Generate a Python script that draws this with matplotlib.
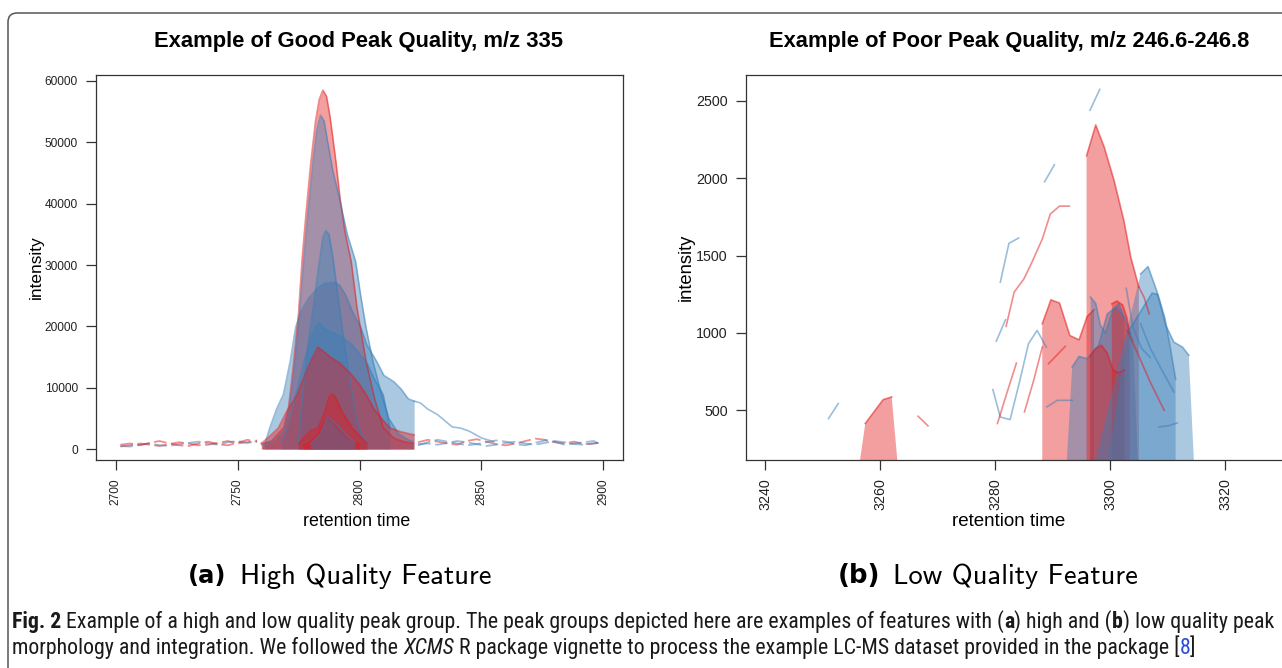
import matplotlib
matplotlib.use("Agg")
import matplotlib.pyplot as plt
from matplotlib import font_manager
from matplotlib.patches import FancyBboxPatch
from matplotlib.transforms import IdentityTransform

W, H = 1282, 668
RED = "#E41A1C"
BLUE = "#377EB8"

# ---------------- (a) good peak, m/z 335 ----------------
red_a_rt = [2760, 2764, 2769, 2771, 2773, 2775, 2776.5, 2778, 2780, 2782, 2783.5, 2785, 2786.5,
            2788, 2790.3, 2792, 2794, 2796.6, 2799, 2802.7, 2806, 2809.7, 2814, 2818, 2822]
red_a_int = [900, 1300, 3500, 7000, 14000, 22000, 31000, 38000, 46500, 53500, 57000, 58500, 57500,
             54000, 47000, 41000, 35500, 30600, 23000, 14300, 8500, 3500, 1800, 1200, 900]

blue_b_rt = [2760, 2765, 2769, 2771, 2773, 2775, 2777, 2779, 2781, 2782.5, 2784, 2785.5, 2787,
             2789, 2791.4, 2795, 2798.4, 2800.5, 2802.7, 2805.5, 2809, 2812, 2816, 2820, 2822]
blue_b_int = [700, 1300, 3000, 6000, 12000, 20000, 30000, 39000, 47000, 52000, 54400, 53500, 50000,
              45500, 41500, 35000, 30600, 25000, 19750, 14300, 8900, 5000, 2500, 1500, 1200]

blue_c_rt = [2775, 2776, 2777.5, 2779, 2781, 2783, 2785, 2786.2, 2787.5, 2789, 2791, 2793, 2795,
             2797, 2799, 2801, 2803]
blue_c_int = [1200, 6000, 12000, 17500, 23000, 29000, 34500, 35600, 35000, 31500, 25500, 19500,
              14000, 9000, 4500, 2000, 1200]

blue_d_rt = [2761, 2763.2, 2766, 2768.8, 2771.6, 2773.8, 2776, 2779, 2782.9, 2786, 2790, 2792,
             2794.2, 2797, 2800.6, 2803, 2807, 2810, 2814, 2817, 2820, 2822.4]
blue_d_int = [600, 3400, 6500, 8900, 14300, 19750, 22500, 24500, 26300, 27000, 27200, 26600,
              25200, 22500, 19750, 17000, 14300, 12000, 11000, 9800, 8200, 7800]
blue_d_tail_rt = [2822.4, 2825, 2828, 2832, 2835, 2838, 2841.5, 2845, 2850, 2855]
blue_d_tail_int = [7800, 7500, 6500, 5600, 4600, 3600, 3400, 2900, 1800, 1200]

blue_e_rt = [2768, 2771, 2774, 2777.3, 2780, 2782, 2783.6, 2786, 2788.6, 2792, 2797, 2800,
             2802.7, 2806, 2809.7, 2812.5]
blue_e_int = [900, 4000, 9000, 14300, 18000, 20000, 20500, 19500, 19000, 18500, 17000, 15500,
              14300, 11500, 8900, 3400]

red_f_rt = [2759.7, 2763, 2766.7, 2770, 2774.5, 2777, 2780, 2782.9, 2785, 2788, 2792, 2797,
            2800, 2802.7, 2806, 2809, 2812.6, 2817, 2822.4]
red_f_int = [900, 2000, 3400, 6000, 8900, 11500, 14300, 16600, 16000, 15000, 14000, 12000,
             10500, 8900, 6500, 5000, 3400, 2800, 2300]

red_g_rt = [2775, 2777, 2780, 2783, 2785.8, 2787.5, 2788.6, 2790, 2792.8, 2797, 2801, 2803]
red_g_int = [800, 1800, 3000, 3430, 6100, 8500, 9000, 8600, 6100, 3430, 1800, 900]

red_h_rt = [2777, 2780, 2783, 2785.5, 2787.2, 2789, 2792, 2795, 2798, 2800]
red_h_int = [600, 1200, 2500, 4200, 5000, 4500, 3000, 1800, 1000, 700]

blue_i_rt = [2780, 2784, 2787, 2790, 2794, 2798]
blue_i_int = [800, 2500, 5200, 4300, 2500, 1000]

# baseline noise outside the peak window
noise_left_rt = [2702, 2706, 2710, 2714, 2718, 2722, 2726, 2730, 2734, 2738, 2742, 2746, 2750,
                 2754, 2758]
noise_right_rt = [2824, 2828, 2832, 2836, 2840, 2844, 2848, 2852, 2856, 2860, 2864, 2868, 2872,
                  2876, 2880, 2884, 2888, 2892, 2896, 2898]
red_noise1_left = [400, 600, 900, 700, 500, 800, 1100, 900, 600, 700, 1000, 1300, 900, 1100, 1400]
blue_noise1_left = [500, 400, 700, 900, 600, 500, 800, 1000, 1200, 900, 700, 1100, 1300, 1000, 1200]
red_noise2_left = [700, 900, 600, 1000, 1300, 900, 600, 500, 900, 1200, 800, 600, 1000, 1500, 1200]
red_noise1_right = [1100, 1500, 1200, 900, 700, 1300, 1600, 1200, 800, 600, 900, 1300, 1700, 1500,
                    1100, 900, 1200, 800, 900, 1000]
blue_noise1_right = [800, 900, 700, 1000, 1300, 1100, 800, 500, 700, 1000, 1200, 900, 700, 1000,
                     1300, 1100, 800, 700, 900, 1000]
blue_noise2_right = [600, 1100, 1500, 1200, 900, 600, 800, 1100, 1400, 1200, 800, 600, 1000, 1400,
                     1200, 700, 900, 1100, 1300, 900]

good_xticks = [2700, 2750, 2800, 2850, 2900]
good_yticks = [0, 10000, 20000, 30000, 40000, 50000, 60000]

# ---------------- (b) poor peak, m/z 246.6-246.8 ----------------
# integrated peak polygons (closed down to zero)
r1_rt = [3255.8, 3257.4, 3260.5, 3262.0, 3263.4]
r1_int = [0, 414, 568, 586, 0]
r2_rt = [3295.9, 3295.9, 3297.5, 3299.0, 3300.7, 3302.4, 3303.6, 3304.7, 3305.0, 3305.0]
r2_int = [0, 2145, 2345, 2199, 1984, 1726, 1489, 1338, 1296, 0]
r3_rt = [3288.2, 3288.2, 3289.7, 3291.2, 3293.0, 3294.6, 3296.0, 3297.2, 3297.2]
r3_int = [0, 1059, 1214, 1193, 983, 955, 1106, 1150, 0]
r4_rt = [3300.3, 3300.3, 3301.2, 3302.2, 3302.9, 3303.4, 3303.4]
r4_int = [0, 1188, 1206, 1180, 1100, 1000, 0]
r5_rt = [3296.5, 3296.5, 3297.5, 3298.5, 3299.5, 3300.5, 3301.5, 3302.5, 3302.5]
r5_int = [0, 850, 900, 920, 870, 760, 740, 760, 0]

b1_rt = [3296.3, 3305.3, 3306.6, 3308.1, 3309.7, 3311.1, 3312.6, 3313.7, 3314.8]
b1_int = [0, 1381, 1429, 1274, 1048, 940, 908, 855, 0]
b2_rt = [3299.0, 3303.0, 3305.5, 3307.3, 3308.3, 3309.5, 3310.5, 3311.4, 3311.4]
b2_int = [0, 1000, 1150, 1257, 1250, 1100, 900, 700, 0]
b3_rt = [3292.2, 3293.4, 3294.6, 3296.0, 3298.0, 3299.5, 3301.0, 3302.5, 3304.0, 3305.0]
b3_int = [0, 779, 848, 833, 919, 1123, 1166, 1100, 950, 0]
b4_rt = [3296.6, 3296.6, 3297.5, 3298.3, 3299.2, 3300.5, 3301.5, 3302.5, 3302.5]
b4_int = [0, 1231, 1190, 1050, 1000, 1150, 1190, 1100, 0]

# chromatogram fragments outside the integrated areas
l1_rt, l1_int = [3251.0, 3252.7], [446, 543]
l2_rt, l2_int = [3266.6, 3268.3], [461, 399]
l3_rt = [3279.6, 3280.9, 3282.6, 3284.3, 3285.8, 3287.3, 3288.9]
l3_int = [633, 456, 439, 693, 930, 1016, 908]
l4_rt, l4_int = [3280.2, 3281.8], [947, 1085]
l5_rt, l5_int = [3280.9, 3282.4, 3284.1], [1328, 1579, 1614]
l6_rt = [3281.9, 3283.3, 3285.0, 3286.4, 3288.2, 3289.6, 3291.2, 3292.9]
l6_int = [1042, 1263, 1349, 1457, 1607, 1769, 1820, 1820]
l7_rt, l7_int = [3280.4, 3282.0, 3283.7], [414, 607, 805]
l8_rt, l8_int = [3285.1, 3286.7, 3288.2], [489, 693, 908]
l9_rt, l9_int = [3288.6, 3290.3], [1977, 2087]
l10_rt, l10_int = [3296.5, 3298.2], [2440, 2575]
l11_rt, l11_int = [3305.0, 3305.9, 3306.8], [1296, 1231, 1123]
l12_rt, l12_int = [3303.0, 3305.0, 3307.0, 3309.4], [1016, 850, 680, 500]
l13_rt, l13_int = [3302.8, 3304.0, 3305.5, 3307.0], [1289, 1030, 900, 840]
l14_rt, l14_int = [3305.3, 3307.0, 3309.0, 3311.1], [1059, 900, 760, 618]
l15_rt, l15_int = [3308.5, 3310.2, 3311.7], [392, 400, 418]
l16_rt, l16_int = [3289.0, 3290.8, 3293.4], [521, 564, 564]
l17_rt, l17_int = [3289.3, 3292.2], [801, 913]

poor_xticks = [3240, 3260, 3280, 3300, 3320]
poor_yticks = [500, 1000, 1500, 2000, 2500]

plt.rcParams["font.family"] = ["Liberation Sans", "DejaVu Sans"]
fig = plt.figure(figsize=(W / 100, H / 100), dpi=100)
renderer = fig.canvas.get_renderer()


def px_axes(x0, y0, x1, y1):
    return fig.add_axes([x0 / W, 1 - y1 / H, (x1 - x0) / W, (y1 - y0) / H])


def r_style(ax, xt, yt, size):
    for s in ax.spines.values():
        s.set_color("#333333")
        s.set_linewidth(0.9)
    ax.set_xticks(xt)
    ax.set_yticks(yt)
    ax.set_xticklabels([str(v) for v in xt], rotation=90)
    ax.tick_params(direction="out", length=7, width=0.9, color="#333333", pad=6,
                   labelsize=size, labelcolor="#222222")


# ---- panel a
ax1 = px_axes(96, 75, 623, 460)
ax1.set_xlim(2692, 2908)
ax1.set_ylim(-1793, 60978)

good_peaks = [(blue_d_rt, blue_d_int, BLUE), (red_a_rt, red_a_int, RED), (blue_b_rt, blue_b_int, BLUE),
              (blue_c_rt, blue_c_int, BLUE), (blue_e_rt, blue_e_int, BLUE), (red_f_rt, red_f_int, RED),
              (red_g_rt, red_g_int, RED), (red_h_rt, red_h_int, RED), (blue_i_rt, blue_i_int, BLUE)]
for rt, it, c in good_peaks:
    ax1.fill_between(rt, 0, it, color=c, alpha=0.42, lw=0)
    ax1.plot(rt, it, color=c, alpha=0.5, lw=1.2)
ax1.plot(blue_d_tail_rt, blue_d_tail_int, color=BLUE, alpha=0.5, lw=1.2)

dash = (0, (7, 2.5))
noise = [(noise_left_rt, red_noise1_left, RED), (noise_left_rt, blue_noise1_left, BLUE),
         (noise_left_rt, red_noise2_left, RED), (noise_right_rt, red_noise1_right, RED),
         (noise_right_rt, blue_noise1_right, BLUE), (noise_right_rt, blue_noise2_right, BLUE)]
for rt, it, c in noise:
    ax1.plot(rt, it, color=c, alpha=0.5, lw=1.3, ls=dash)
r_style(ax1, good_xticks, good_yticks, 8.6)

# ---- panel b
ax2 = px_axes(746, 75, 1290, 460)
ax2.set_xlim(3236.65, 3331.3)
ax2.set_ylim(178, 2668)

poor_fills = [(r1_rt, r1_int, RED), (r3_rt, r3_int, RED), (b3_rt, b3_int, BLUE), (r2_rt, r2_int, RED),
              (b4_rt, b4_int, BLUE), (r5_rt, r5_int, RED), (r4_rt, r4_int, RED),
              (b1_rt, b1_int, BLUE), (b2_rt, b2_int, BLUE)]
for rt, it, c in poor_fills:
    ax2.fill(rt, it, color=c, alpha=0.42, lw=0)
    ax2.plot(rt[1:-1], it[1:-1], color=c, alpha=0.55, lw=1.2)

poor_lines = [(l1_rt, l1_int, BLUE), (l2_rt, l2_int, RED), (l3_rt, l3_int, BLUE), (l4_rt, l4_int, BLUE),
              (l5_rt, l5_int, BLUE), (l6_rt, l6_int, RED), (l7_rt, l7_int, RED), (l8_rt, l8_int, RED),
              (l9_rt, l9_int, BLUE), (l10_rt, l10_int, BLUE), (l11_rt, l11_int, RED),
              (l12_rt, l12_int, RED), (l13_rt, l13_int, BLUE), (l14_rt, l14_int, BLUE),
              (l15_rt, l15_int, BLUE), (l16_rt, l16_int, BLUE), (l17_rt, l17_int, RED)]
for rt, it, c in poor_lines:
    ax2.plot(rt, it, color=c, alpha=0.5, lw=1.2)
r_style(ax2, poor_xticks, poor_yticks, 10.3)


# ---- text helpers
def fit_text(x, y, s, width, ha="center", **kw):
    t = fig.text(x / W, 1 - y / H, s, ha=ha, va="center", fontsize=12, **kw)
    w = t.get_window_extent(renderer).width
    t.set_fontsize(12 * width / w)
    return t


fit_text(358, 41, "Example of Good Peak Quality, m/z 335", 407, fontweight="bold")
fit_text(1009, 41, "Example of Poor Peak Quality, m/z 246.6-246.8", 479, fontweight="bold")
fig.text(36 / W, 1 - 267 / H, "intensity", rotation=90, ha="center", va="center", fontsize=12.4)
fig.text(686 / W, 1 - 267 / H, "intensity", rotation=90, ha="center", va="center", fontsize=13.2)
fig.text(357 / W, 1 - 522 / H, "retention time", ha="center", va="center", fontsize=12.8)
fig.text(1009 / W, 1 - 522 / H, "retention time", ha="center", va="center", fontsize=13.5)

# sub-figure labels
fit_text(188, 576, "(a)", 38, ha="left", family="DejaVu Sans", fontweight="bold")
fit_text(240, 576, "High Quality Feature", 252, ha="left", family="cmss10")
fit_text(838, 576, "(b)", 42, ha="left", family="DejaVu Sans", fontweight="bold")
fit_text(893, 576, "Low Quality Feature", 245, ha="left", family="cmss10")

# caption
names = {f.name for f in font_manager.fontManager.ttflist}
cap_family = "Liberation Sans"
for cand in ["Liberation Sans Narrow", "Roboto Condensed", "Open Sans Condensed", "DejaVu Sans Condensed"]:
    if cand in names:
        cap_family = cand
        break

cap_line1 = [("Fig. 2", {"fontweight": "bold"}, False),
             ("Example of a high and low quality peak group. The peak groups depicted here are "
              "examples of features with (", {}, True),
             ("a", {"fontweight": "bold"}, False),
             (") high and (", {}, False),
             ("b", {"fontweight": "bold"}, False),
             (") low quality peak", {}, False)]
cap_line2 = [("morphology and integration. We followed the", {}, False),
             ("XCMS", {"fontstyle": "italic"}, True),
             ("R package vignette to process the example LC-MS dataset provided in the package [",
              {}, True),
             ("8", {"color": "#2A4BD7"}, False),
             ("]", {}, False)]


def rich(pieces, x0, y, size):
    probe = fig.text(0, 0, "a a", fontsize=size, family=cap_family)
    probe2 = fig.text(0, 0, "aa", fontsize=size, family=cap_family)
    sp = probe.get_window_extent(renderer).width - probe2.get_window_extent(renderer).width
    probe.remove()
    probe2.remove()
    x = x0
    arts = []
    for s, style, gap in pieces:
        if gap:
            x += sp
        t = fig.text(x / W, 1 - y / H, s, fontsize=size, family=cap_family, va="baseline",
                     ha="left", color=style.get("color", "#1a1a1a"),
                     fontweight=style.get("fontweight", "normal"),
                     fontstyle=style.get("fontstyle", "normal"))
        x += t.get_window_extent(renderer).width
        arts.append(t)
    return x - x0, arts


w1, arts = rich(cap_line1, 12, 628, 12)
for a in arts:
    a.remove()
cap_size = 12 * 1266 / w1
rich(cap_line1, 12, 628, cap_size)
rich(cap_line2, 12, 654, cap_size)

# outer frame of the figure panel
frame = FancyBboxPatch((8, -30), 1320, H - 13 + 30, boxstyle="round,pad=0,rounding_size=9",
                       transform=IdentityTransform(), fc="none", ec="#555555", lw=1.1)
fig.add_artist(frame)

fig.savefig("out.png", dpi=100)
